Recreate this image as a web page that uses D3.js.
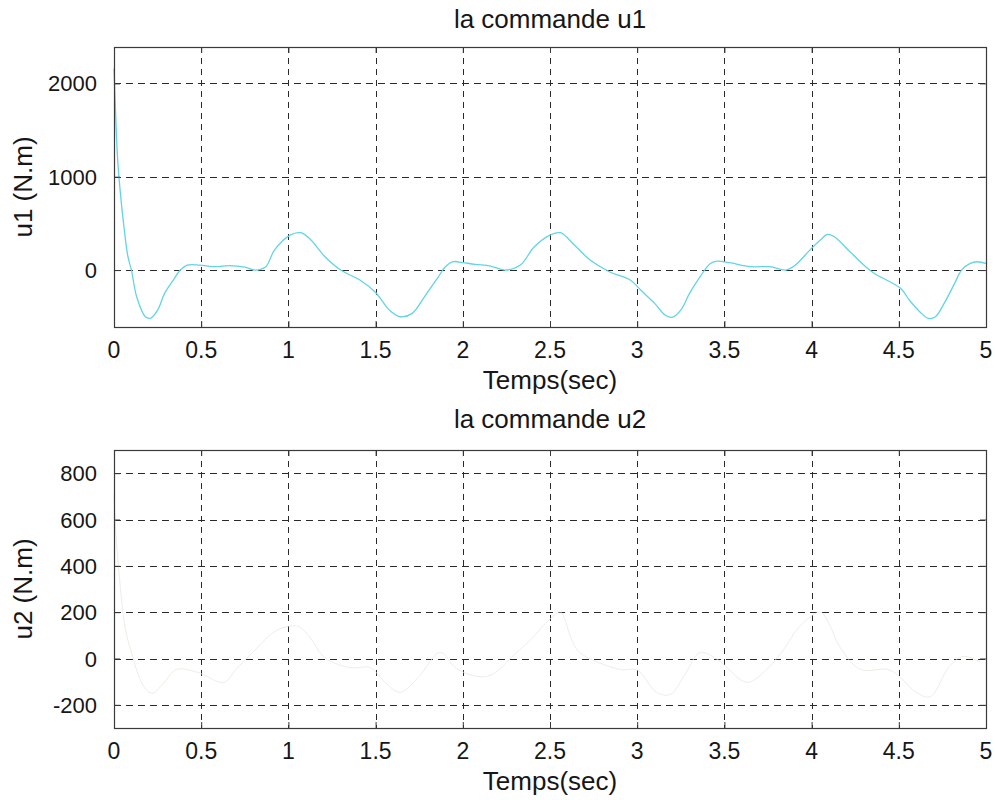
<!DOCTYPE html>
<html>
<head>
<meta charset="utf-8">
<script src="https://cdn.jsdelivr.net/npm/d3@7"></script>
<style>
  html, body { margin: 0; padding: 0; background: #ffffff; }
  svg { display: block; font-family: "Liberation Sans", Arial, sans-serif; }
</style>
</head>
<body>
<svg id="chart" width="995" height="800"></svg>
<script>
// Control signal u1 (N.m) versus time (s)
const u1Time = [0, 0.005, 0.02, 0.035, 0.057, 0.08, 0.1, 0.13, 0.18, 0.21, 0.25, 0.29, 0.34, 0.38, 0.42, 0.49, 0.58, 0.66, 0.75, 0.81, 0.87, 0.92, 1.01, 1.07, 1.12, 1.21, 1.30, 1.41, 1.50, 1.58, 1.64, 1.71, 1.78, 1.86, 1.90, 1.94, 1.98, 2.07, 2.16, 2.24, 2.33, 2.41, 2.50, 2.56, 2.64, 2.73, 2.84, 2.96, 3.02, 3.10, 3.16, 3.20, 3.25, 3.30, 3.36, 3.42, 3.46, 3.53, 3.65, 3.76, 3.85, 3.90, 3.99, 4.05, 4.09, 4.13, 4.22, 4.31, 4.36, 4.51, 4.56, 4.62, 4.67, 4.71, 4.76, 4.82, 4.86, 4.91, 4.95, 5.0];
const u1Value = [2160, 1900, 1215, 857, 464, 143, 0, -286, -500, -515, -430, -250, -107, 0, 54, 54, 36, 48, 32, 0, 35, 214, 375, 400, 340, 143, 0, -107, -240, -430, -500, -464, -286, -72, 36, 89, 86, 61, 43, 0, 54, 250, 375, 400, 268, 107, -18, -107, -214, -357, -482, -507, -430, -250, -72, 71, 96, 79, 36, 36, 0, 43, 214, 321, 382, 357, 196, 36, -36, -196, -321, -446, -518, -500, -357, -143, 0, 71, 89, 71];

// Control signal u2 (N.m) versus time (s)
const u2Time = [0, 0.01, 0.034, 0.06, 0.09, 0.17, 0.22, 0.28, 0.36, 0.48, 0.63, 0.70, 0.80, 0.93, 1.05, 1.12, 1.20, 1.30, 1.37, 1.47, 1.55, 1.64, 1.75, 1.87, 1.97, 2.14, 2.30, 2.39, 2.50, 2.56, 2.62, 2.67, 2.90, 3.00, 3.11, 3.19, 3.28, 3.36, 3.46, 3.63, 3.75, 3.84, 3.93, 4.05, 4.10, 4.16, 4.28, 4.45, 4.60, 4.68, 4.79, 4.87, 4.97];
const u2Value = [710, 550, 326, 150, 52, -120, -150, -110, -47, -60, -103, -47, 30, 120, 140, 94, 9, -30, -40, -40, -100, -146, -77, 26, -47, -77, 20, 82, 170, 200, 90, 26, -47, -50, -146, -155, -60, 26, -4, -103, -40, 39, 137, 200, 150, 52, -47, -50, -146, -165, -34, 9, -17];

// Axis ticks
const timeTicks = [0, 0.5, 1, 1.5, 2, 2.5, 3, 3.5, 4, 4.5, 5];
const timeTickLabels = ["0", "0.5", "1", "1.5", "2", "2.5", "3", "3.5", "4", "4.5", "5"];
const u1Ticks = [0, 1000, 2000];
const u2Ticks = [-200, 0, 200, 400, 600, 800];

const svg = d3.select("#chart");
const ink = "#161616";

function drawPanel(cfg) {
  const x = d3.scaleLinear().domain([0, 5]).range([cfg.left, cfg.right]);
  const y = d3.scaleLinear().domain(cfg.yDomain).range([cfg.bottom, cfg.top]);
  const g = svg.append("g");

  // dashed grid
  g.append("g").selectAll("line").data(timeTicks.slice(1, -1)).join("line")
    .attr("x1", d => Math.round(x(d)) + 0.5).attr("x2", d => Math.round(x(d)) + 0.5)
    .attr("y1", cfg.top).attr("y2", cfg.bottom)
    .attr("stroke", "#2a2a2a").attr("stroke-width", 1).attr("stroke-dasharray", "6,5");
  g.append("g").selectAll("line").data(cfg.yTicks).join("line")
    .attr("x1", cfg.left).attr("x2", cfg.right)
    .attr("y1", d => Math.round(y(d)) + 0.5).attr("y2", d => Math.round(y(d)) + 0.5)
    .attr("stroke", "#2a2a2a").attr("stroke-width", 1).attr("stroke-dasharray", "7,5");

  // series
  const line = d3.line().x(d => x(d[0])).y(d => y(d[1])).curve(d3.curveCatmullRom.alpha(0.5));
  const pts = cfg.t.map((t, i) => [t, cfg.v[i]]);
  g.append("path").datum(pts).attr("d", line)
    .attr("fill", "none").attr("stroke", cfg.color).attr("stroke-width", cfg.width)
    .attr("stroke-opacity", cfg.opacity);

  // frame
  g.append("rect")
    .attr("x", cfg.left + 0.5).attr("y", cfg.top + 0.5)
    .attr("width", cfg.right - cfg.left).attr("height", cfg.bottom - cfg.top)
    .attr("fill", "none").attr("stroke", "#3a3a3a").attr("stroke-width", 1.2);

  // inward tick marks on all four sides
  const mk = a => a.tickSizeInner(-6).tickSizeOuter(0).tickFormat("");
  [[mk(d3.axisBottom(x).tickValues(timeTicks)), `translate(0,${cfg.bottom})`],
   [mk(d3.axisTop(x).tickValues(timeTicks)), `translate(0,${cfg.top})`],
   [mk(d3.axisLeft(y).tickValues(cfg.yTicks)), `translate(${cfg.left},0)`],
   [mk(d3.axisRight(y).tickValues(cfg.yTicks)), `translate(${cfg.right},0)`]].forEach(([ax, tr]) => {
    const a = g.append("g").attr("transform", tr).call(ax);
    a.select(".domain").remove();
    a.selectAll("line").attr("stroke", "#3a3a3a");
  });

  // tick labels
  g.append("g").selectAll("text").data(timeTicks).join("text")
    .attr("x", d => x(d)).attr("y", cfg.bottom + 31)
    .attr("text-anchor", "middle").attr("font-size", 23).attr("fill", ink)
    .text((d, i) => timeTickLabels[i]);
  g.append("g").selectAll("text").data(cfg.yTicks).join("text")
    .attr("x", cfg.left - 17).attr("y", d => y(d) + 8)
    .attr("text-anchor", "end").attr("font-size", 22).attr("fill", ink)
    .text(d => String(d));

  // title and labels
  g.append("text").attr("x", (cfg.left + cfg.right) / 2).attr("y", cfg.top - cfg.titleGap)
    .attr("text-anchor", "middle").attr("font-size", 26).attr("fill", ink).text(cfg.title);
  g.append("text").attr("x", (cfg.left + cfg.right) / 2).attr("y", cfg.bottom + 62)
    .attr("text-anchor", "middle").attr("font-size", 26).attr("fill", ink).text("Temps(sec)");
  g.append("text")
    .attr("transform", `translate(32,${(cfg.top + cfg.bottom) / 2}) rotate(-90)`)
    .attr("text-anchor", "middle").attr("font-size", 26).attr("fill", ink).text(cfg.ylabel);
}

drawPanel({
  left: 114, right: 986, top: 47, bottom: 327, titleGap: 19,
  yDomain: [-610, 2390], yTicks: u1Ticks,
  t: u1Time, v: u1Value, color: "#62d4e4", width: 1.3, opacity: 1,
  title: "la commande u1", ylabel: "u1 (N.m)"
});

drawPanel({
  left: 114, right: 986, top: 450, bottom: 728, titleGap: 22,
  yDomain: [-300, 900], yTicks: u2Ticks,
  t: u2Time, v: u2Value, color: "#ebe5dc", width: 1, opacity: 0.75,
  title: "la commande u2", ylabel: "u2 (N.m)"
});
</script>
</body>
</html>
